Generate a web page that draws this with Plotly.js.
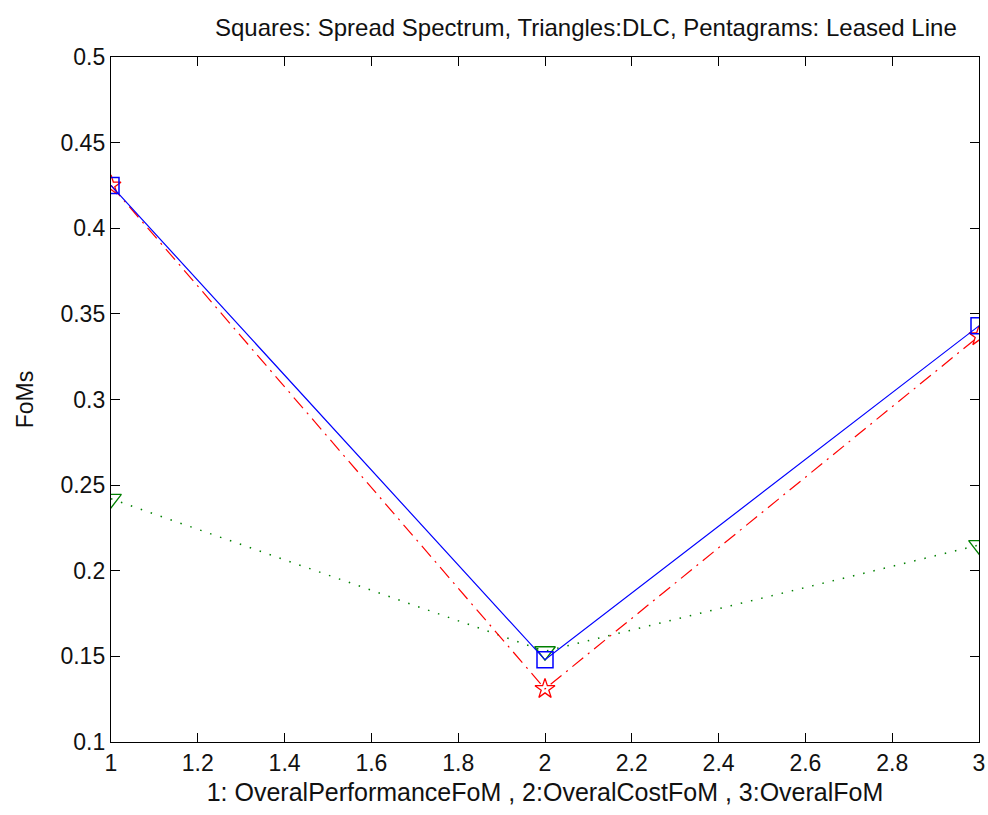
<!DOCTYPE html>
<html><head><meta charset="utf-8">
<script src="https://cdn.plot.ly/plotly-3.0.1.min.js"></script>
<style>body{margin:0;background:#fff}#c{width:988px;height:815px}</style>
</head><body><div id="c"></div>
<script>
const xCats = [1, 2, 3];
const spreadSpectrum = [0.425, 0.148, 0.343];
const dlc = [0.242, 0.153, 0.215];
const leasedLine = [0.425, 0.131, 0.337];
const xTicks = [1, 1.2, 1.4, 1.6, 1.8, 2, 2.2, 2.4, 2.6, 2.8, 3];
const yTicks = [0.1, 0.15, 0.2, 0.25, 0.3, 0.35, 0.4, 0.45, 0.5];

const FONT = 'Liberation Sans, Arial, sans-serif';
const traces = [
  {x: xCats, y: dlc, mode: 'lines+markers', line: {color: '#008000', dash: '1.5px,9px', width: 1.5},
   marker: {symbol: 'triangle-down-open', size: 18, color: '#008000', line: {width: 1.3, color: '#008000'}}},
  {x: xCats, y: leasedLine, mode: 'lines+markers', line: {color: '#ff0000', dash: '14px,6px,2px,6px', width: 1.2},
   marker: {symbol: 'star-open', size: 15, color: '#ff0000', line: {width: 1.3, color: '#ff0000'}}},
  {x: xCats, y: spreadSpectrum, mode: 'lines+markers', line: {color: '#0000ff', width: 1.2},
   marker: {symbol: 'square-open', size: 16, color: '#0000ff', line: {width: 1.5, color: '#0000ff'}}}
];
const ax = {
  showgrid: false, zeroline: false, ticks: 'inside', ticklen: 9, tickcolor: '#000',
  showline: true, linecolor: '#000', linewidth: 1.2, mirror: 'ticks',
  tickfont: {family: FONT, size: 23, color: '#111'}
};
const layout = {
  width: 988, height: 815, paper_bgcolor: '#fff', plot_bgcolor: '#fff',
  margin: {l: 111, r: 9, t: 57, b: 73},
  showlegend: false,
  title: {text: 'Squares: Spread Spectrum, Triangles:DLC, Pentagrams: Leased Line',
    font: {family: FONT, size: 24, color: '#111'}, x: 0.593, xanchor: 'center', y: 0.966, yanchor: 'middle'},
  xaxis: Object.assign({}, ax, {range: [1, 3], tickvals: xTicks, ticktext: xTicks.map(String),
    title: {text: '1: OveralPerformanceFoM , 2:OveralCostFoM , 3:OveralFoM', standoff: 8,
      font: {family: FONT, size: 25, color: '#111'}}}),
  yaxis: Object.assign({}, ax, {range: [0.1, 0.5], tickvals: yTicks, ticktext: yTicks.map(String),
    title: {text: 'FoMs', standoff: 20, font: {family: FONT, size: 23, color: '#111'}}})
};
Plotly.newPlot('c', traces, layout, {displayModeBar: false, staticPlot: true});
</script></body></html>
